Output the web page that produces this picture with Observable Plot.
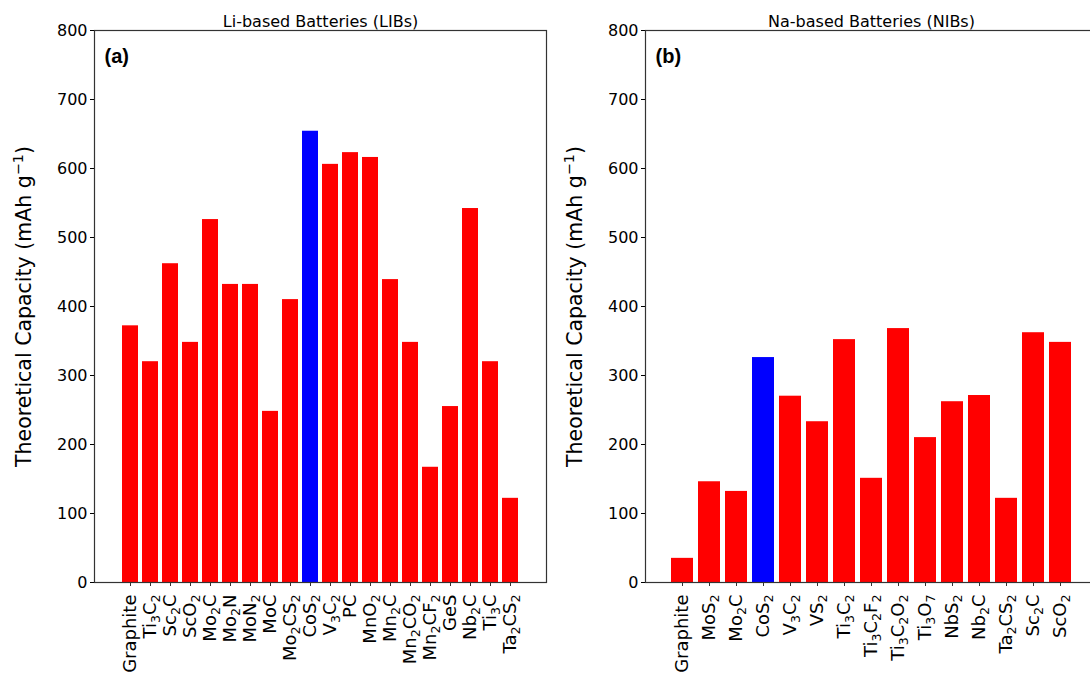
<!DOCTYPE html>
<html>
<head>
<meta charset="utf-8">
<script src="https://cdn.jsdelivr.net/npm/d3@7"></script>
<script src="https://cdn.jsdelivr.net/npm/@observablehq/plot@0.6"></script>
<style>
  html, body { margin: 0; padding: 0; background: white; }
  #wrap { position: relative; width: 1090px; height: 679px; overflow: hidden; background: white; }
  #wrap > div, #wrap > svg { position: absolute; top: 0; }
</style>
</head>
<body>
<div id="wrap"></div>
<script>
const libNames = ["Graphite","Ti₃C₂","Sc₂C","ScO₂","Mo₂C","Mo₂N","MoN₂","MoC","Mo₂CS₂","CoS₂","V₃C₂","PC","MnO₂","Mn₂C","Mn₂CO₂","Mn₂CF₂","GeS","Nb₂C","Ti₃C","Ta₂CS₂"];
const libValues = [372,320,462,348,526,432,432,248,410,654,606,623,616,439,348,167,255,542,320,122];
const nibNames = ["Graphite","MoS₂","Mo₂C","CoS₂","V₃C₂","VS₂","Ti₃C₂","Ti₃C₂F₂","Ti₃C₂O₂","Ti₃O₇","NbS₂","Nb₂C","Ta₂CS₂","Sc₂C","ScO₂"];
const nibValues = [35,146,132,326,270,233,352,151,368,210,262,271,122,362,348];
const highlight = "CoS₂";
const yTicks = [0,100,200,300,400,500,600,700,800];
const yLabel = "Theoretical Capacity (mAh g⁻¹)";
const titles = ["Li-based Batteries (LIBs)", "Na-based Batteries (NIBs)"];
const tags = ["(a)", "(b)"];

const SUB = "₀₁₂₃₄₅₆₇₈₉";
const SUP = {"⁻": "−", "¹": "1"};

// rebuild a text element so that Unicode sub/superscripts become smaller shifted tspans
function styleScripts(textEl, baseSize, subShift, supShift) {
  const s = textEl.textContent;
  const runs = [];
  for (const ch of s) {
    let kind = "n", c = ch;
    if (SUB.includes(ch)) { kind = "sub"; c = String(SUB.indexOf(ch)); }
    else if (SUP[ch] !== undefined) { kind = "sup"; c = SUP[ch]; }
    if (runs.length && runs[runs.length - 1].kind === kind) runs[runs.length - 1].t += c;
    else runs.push({kind, t: c});
  }
  if (runs.length === 1 && runs[0].kind === "n") return;
  while (textEl.firstChild) textEl.removeChild(textEl.firstChild);
  let cur = 0;
  for (const r of runs) {
    const ts = document.createElementNS("http://www.w3.org/2000/svg", "tspan");
    const target = r.kind === "sub" ? subShift : r.kind === "sup" ? -supShift : 0;
    ts.setAttribute("dy", (target - cur) + "px");
    cur = target;
    if (r.kind !== "n") ts.setAttribute("font-size", (baseSize * 0.7) + "px");
    ts.textContent = r.t;
    textEl.appendChild(ts);
  }
}

function panel(names, values, title, tag, outer, marginRight) {
  const data = names.map((n, i) => ({name: n, value: values[i]}));
  const svg = Plot.plot({
    width: 94 + 452 + marginRight,
    height: 679,
    marginLeft: 94,
    marginRight: marginRight,
    marginTop: 30,
    marginBottom: 97,
    style: {fontFamily: "DejaVu Sans", fontSize: "16px", color: "#000", background: "white", overflow: "visible"},
    x: {domain: names, paddingInner: 0.2, paddingOuter: outer, label: null},
    y: {domain: [0, 800]},
    color: {type: "identity"},
    marks: [
      Plot.barY(data, {x: "name", y: "value", fill: d => d.name === highlight ? "#0000ff" : "#ff0000"}),
      Plot.frame({stroke: "#333", strokeWidth: 1.2}),
      Plot.axisX({tickRotate: -90, tickSize: 4, tickPadding: 8, fontSize: 18, label: null, stroke: "#333"}),
      Plot.axisY({ticks: yTicks, tickSize: 4, tickPadding: 3, fontSize: 16, label: null}),
      Plot.axisY({ticks: [], tickSize: 0, label: yLabel, labelAnchor: "center", labelArrow: "none", labelOffset: 78, fontSize: 20.5}),
      Plot.text([title], {frameAnchor: "top", dy: -15, fontSize: 16, text: d => d}),
      Plot.text([tag], {frameAnchor: "top-left", textAnchor: "start", dx: 10, dy: 18, fontSize: 20, fontWeight: "bold", fontFamily: "Liberation Sans", text: d => d})
    ]
  });
  svg.querySelectorAll('g[aria-label="x-axis tick label"] text').forEach(t => styleScripts(t, 18, 4, 0));
  svg.querySelectorAll('g[aria-label="y-axis label"] text').forEach(t => styleScripts(t, 20.5, 0, 8));
  return svg;
}

const wrap = document.getElementById("wrap");
const p1 = panel(libNames, libValues, titles[0], tags[0], 0.99, 4);
p1.style.left = "0px";
wrap.appendChild(p1);
const p2 = panel(nibNames, nibValues, titles[1], tags[1], 0.74, 4);
p2.style.left = "551px";
wrap.appendChild(p2);
</script>
</body>
</html>
